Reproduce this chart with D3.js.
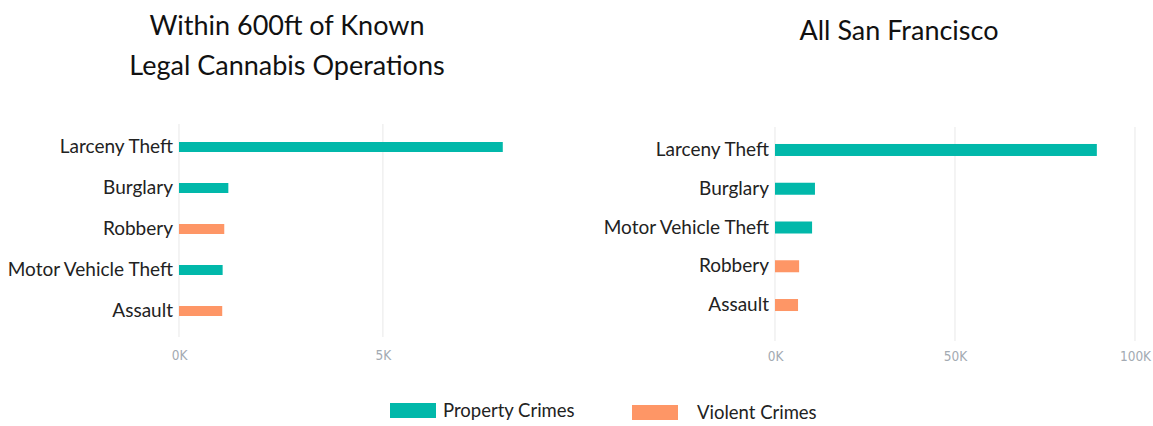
<!DOCTYPE html>
<html>
<head>
<meta charset="utf-8">
<script src="https://cdn.jsdelivr.net/npm/d3@7"></script>
<style>
  html, body { margin: 0; padding: 0; background: #fff; }
  svg { display: block; }
  text { font-family: Lato, "Open Sans", sans-serif; }
</style>
</head>
<body>
<svg id="chart" width="1153" height="426"></svg>
<script>
// Crime counts by category
const nearCategories = ["Larceny Theft", "Burglary", "Robbery", "Motor Vehicle Theft", "Assault"];
const nearValues     = [7940, 1210, 1110, 1070, 1060];
const nearTypes      = ["Property", "Property", "Violent", "Property", "Violent"];

const sfCategories = ["Larceny Theft", "Burglary", "Motor Vehicle Theft", "Robbery", "Assault"];
const sfValues     = [89400, 11100, 10300, 6700, 6400];
const sfTypes      = ["Property", "Property", "Property", "Violent", "Violent"];

const nearTicks = [0, 5000];
const sfTicks   = [0, 50000, 100000];

const legendLabels = ["Property Crimes", "Violent Crimes"];
const crimeTypes   = ["Property", "Violent"];

const colour = d3.scaleOrdinal().domain(crimeTypes).range(["#01B8AA", "#FE9666"]);
const kFormat = d => (d / 1000) + "K";

const svg = d3.select("#chart");

function panel(cfg) {
  const g = svg.append("g");
  const rows = cfg.categories.map((c, i) => ({ cat: c, value: cfg.values[i], type: cfg.types[i] }));

  const x = d3.scaleLinear().domain(cfg.domain).range(cfg.xRange);
  const y = d3.scalePoint().domain(cfg.categories).range(cfg.yRange).padding(0.5);

  // vertical gridlines
  g.selectAll("line.grid").data(cfg.ticks).join("line")
    .attr("class", "grid")
    .attr("x1", d => x(d)).attr("x2", d => x(d))
    .attr("y1", cfg.gridTop).attr("y2", cfg.gridBottom)
    .attr("stroke", "#ececec").attr("stroke-width", 1.2);

  // bottom axis labels
  const axis = d3.axisBottom(x).tickValues(cfg.ticks).tickFormat(kFormat).tickSize(0).tickPadding(0);
  const ax = g.append("g").attr("transform", `translate(0,${cfg.tickY})`).call(axis);
  ax.select(".domain").remove();
  ax.selectAll("text")
    .attr("fill", "#a3aab2").attr("font-size", 13.5).attr("dy", 0)
    .style("font-family", "'Liberation Sans Narrow', 'DejaVu Sans Condensed', sans-serif");

  // bars
  g.selectAll("rect.bar").data(rows).join("rect")
    .attr("class", "bar")
    .attr("x", x(0))
    .attr("y", d => y(d.cat) - cfg.barH / 2)
    .attr("width", d => x(d.value) - x(0))
    .attr("height", cfg.barH)
    .attr("fill", d => colour(d.type));

  // category labels
  g.selectAll("text.cat").data(rows).join("text")
    .attr("class", "cat")
    .attr("x", x(0) - 6)
    .attr("y", d => y(d.cat))
    .attr("dy", "0.32em")
    .attr("text-anchor", "end")
    .attr("fill", "#222")
    .attr("font-size", cfg.labelSize)
    .text(d => d.cat);

  // title
  const t = g.append("text")
    .attr("x", cfg.titleX).attr("text-anchor", "middle")
    .attr("fill", "#111").attr("font-size", 27);
  cfg.title.forEach((line, i) => {
    t.append("tspan").attr("x", cfg.titleX).attr("y", cfg.titleY + i * 40).text(line);
  });
}

panel({
  categories: nearCategories, values: nearValues, types: nearTypes,
  ticks: nearTicks, domain: [0, 9000], xRange: [179, 546],
  yRange: [126.5, 331.5], barH: 10, gridTop: 124, gridBottom: 337, tickY: 360,
  labelSize: 19,
  title: ["Within 600ft of Known", "Legal Cannabis Operations"], titleX: 287, titleY: 35
});

panel({
  categories: sfCategories, values: sfValues, types: sfTypes,
  ticks: sfTicks, domain: [0, 100000], xRange: [775, 1135],
  yRange: [130.6, 324.4], barH: 12, gridTop: 127, gridBottom: 341, tickY: 361,
  labelSize: 19,
  title: ["All San Francisco"], titleX: 899, titleY: 40
});

// legend
const legend = svg.append("g");
const legendX = [390, 632];
crimeTypes.forEach((t, i) => {
  legend.append("rect")
    .attr("x", legendX[i]).attr("y", 403 + i * 2)
    .attr("width", 46).attr("height", 15)
    .attr("fill", colour(t));
  legend.append("text")
    .attr("x", legendX[i] + 53 + i * 12).attr("y", 411 + i * 2)
    .attr("dy", "0.35em")
    .attr("fill", "#222").attr("font-size", 18.5)
    .text(legendLabels[i]);
});
</script>
</body>
</html>
